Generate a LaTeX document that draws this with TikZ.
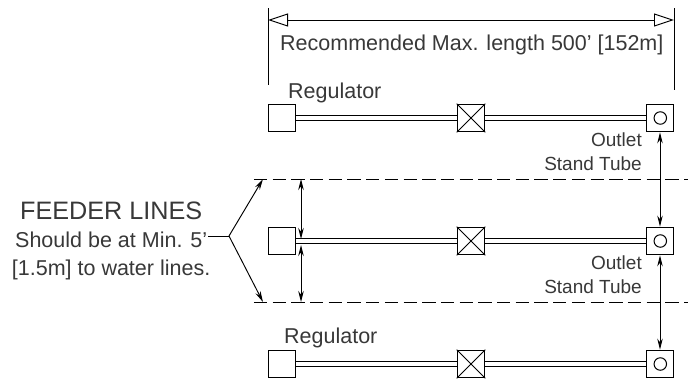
\documentclass[tikz,border=0pt]{standalone}
\usepackage{fontspec}
\setmainfont{Liberation Sans}
\usetikzlibrary{arrows.meta}
\definecolor{txt}{HTML}{383838}
\tikzset{
  unitbox/.style={draw=black,line width=1.2pt,fill=white,inner sep=0pt,minimum width=27.5pt,minimum height=27.5pt},
  ring/.style={draw=black,line width=1pt,circle,inner sep=0pt,minimum size=12.5pt},
  pipeline/.style={draw=black,line width=1.2pt,double=white,double distance=3.6pt},
  dim/.style={draw=black,line width=0.95pt},
  solid tip/.style={{Stealth[length=11pt,width=5.5pt]}-{Stealth[length=11pt,width=5.5pt]}},
  open dim/.style={{Triangle[open,length=20pt,width=13pt,fill=white]}-{Triangle[open,length=20pt,width=13pt,fill=white]}},
  guide/.style={draw=black,line width=0.95pt,dash pattern=on 13.3pt off 5.4pt},
  label/.style={text=txt,font=\fontsize{21.5pt}{24pt}\selectfont,inner sep=0pt,anchor=base west},
  small/.style={text=txt,font=\fontsize{19pt}{22pt}\selectfont,inner sep=0pt,anchor=base east},
  head/.style={text=txt,font=\fontsize{25.2pt}{26pt}\selectfont,inner sep=0pt,anchor=base west}
}
\begin{document}
\begin{tikzpicture}[x=1pt,y=-1pt]
\useasboundingbox (0,0) rectangle (688,380);
% extension lines and overall dimension
\coordinate (et1) at (268,8); \coordinate (eb1) at (268,85);
\coordinate (et2) at (674,8); \coordinate (eb2) at (674,90);
\coordinate (d1) at (268,20); \coordinate (d2) at (674,20);
\draw[dim] (et1) -- (eb1);
\draw[dim] (et2) -- (eb2);
\draw[dim,open dim] (d1) -- (d2);
% dashed guides
\coordinate (g1a) at (253.9,179); \coordinate (g1b) at (688,179);
\coordinate (g2a) at (253.9,302); \coordinate (g2b) at (688,302);
\draw[guide] (g1a) -- (g1b);
\draw[guide] (g2a) -- (g2b);
% row nodes
\foreach \r/\y in {1/118,2/241,3/364}{
  \node[unitbox] (reg\r) at (282,\y) {};
  \node[unitbox] (val\r) at (471,\y) {};
  \node[unitbox] (out\r) at (660,\y) {};
  \node[ring] (cir\r) at (660.3,\y) {};
  \draw[pipeline] (reg\r.east) -- (val\r.west);
  \draw[pipeline] (val\r.east) -- (out\r.west);
  \draw[black,line width=1pt] (val\r.north west) -- (val\r.south east);
  \draw[black,line width=1pt] (val\r.south west) -- (val\r.north east);
}
% spacing dimensions between stand tubes
\draw[dim,solid tip] (out1.south) -- (out2.north);
\draw[dim,solid tip] (out2.south) -- (out3.north);
% feeder spacing dimension
\coordinate (fa) at (301,179); \coordinate (fb) at (301,239);
\coordinate (fc) at (301,245); \coordinate (fd) at (301,302);
\draw[dim,solid tip] (fa) -- (fb);
\draw[dim,solid tip] (fc) -- (fd);
% leader
\coordinate (lj) at (229,236); \coordinate (ls) at (208,236);
\coordinate (lt) at (263,179); \coordinate (lb) at (263,302);
\draw[dim] (ls) -- (lj);
\draw[dim,-{Stealth[length=11pt,width=5.5pt]}] (lj) -- (lt);
\draw[dim,-{Stealth[length=11pt,width=5.5pt]}] (lj) -- (lb);
% labels
\node[label] (t1) at (280,50) {Recommended Max. length 500’ [152m]};
\node[label] (t2) at (288,98) {Regulator};
\node[label] (t3) at (284,343) {Regulator};
\node[small] (t4) at (642,146) {Outlet};
\node[small] (t5) at (642,170) {Stand Tube};
\node[small] (t6) at (642,269) {Outlet};
\node[small] (t7) at (642,293) {Stand Tube};
\node[head] (t8) at (20,219) {FEEDER LINES};
\node[label] (t9) at (15,247) {Should be at Min. 5’};
\node[label] (t10) at (11.7,275) {[1.5m] to water lines.};
\end{tikzpicture}
\end{document}
